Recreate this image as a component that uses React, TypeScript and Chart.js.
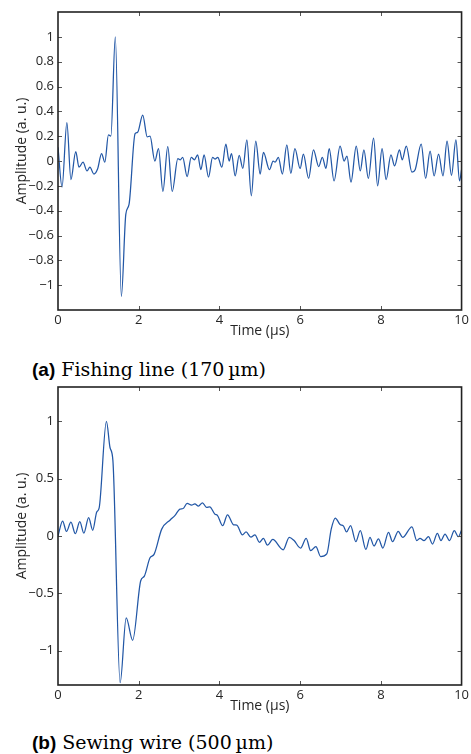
import React, { useEffect, useRef } from "react";
import { Chart, registerables } from "chart.js";

Chart.register(...registerables);

// ---------- data: (a) fishing line ----------
const timeA = [
  0.0, 0.1, 0.22, 0.32, 0.44, 0.52, 0.62, 0.72, 0.79, 0.89, 0.98, 1.08, 1.16, 1.25, 1.31,
  1.42, 1.57, 1.68, 1.76, 1.91, 1.97, 2.1, 2.21, 2.28, 2.4, 2.49, 2.6, 2.72, 2.83, 2.97,
  3.03, 3.09, 3.2, 3.3, 3.38, 3.46, 3.54, 3.62, 3.73, 3.83, 3.89, 3.96, 4.06, 4.16, 4.24,
  4.3, 4.39, 4.49, 4.58, 4.68, 4.79, 4.9, 5.01, 5.09, 5.24, 5.33, 5.38, 5.46, 5.56, 5.67,
  5.77, 5.87, 6.0, 6.08, 6.21, 6.33, 6.46, 6.55, 6.64, 6.72, 6.84, 6.99, 7.09, 7.16, 7.26,
  7.39, 7.49, 7.58, 7.69, 7.82, 7.92, 8.03, 8.13, 8.25, 8.34, 8.46, 8.53, 8.63, 8.77, 8.85,
  9.0, 9.11, 9.22, 9.32, 9.43, 9.54, 9.64, 9.75, 9.86, 9.95, 10.0,
];
const ampA = [
  0.11, -0.21, 0.31, -0.15, 0.075, -0.05, -0.01, -0.08, -0.05, -0.105, -0.065, 0.06, -0.01, 0.21, 0.2,
  1.0, -1.09, -0.43, -0.35, 0.22, 0.23, 0.37, 0.195, 0.2, 0.0, 0.1, -0.245, 0.115, -0.245, 0.02,
  0.01, 0.03, -0.126, 0.03, 0.01, 0.05, -0.07, 0.05, -0.13, 0.03, 0.015, 0.03, -0.05, 0.135, 0.0,
  0.06, -0.12, 0.045, -0.06, 0.17, -0.28, 0.16, -0.105, 0.07, -0.07, 0.0, -0.01, 0.03, -0.105, 0.13,
  -0.1, 0.1, -0.06, 0.055, -0.14, 0.09, -0.045, 0.03, -0.06, 0.1, -0.16, 0.12, 0.0, 0.04, -0.17,
  0.12, -0.08, 0.09, -0.14, 0.185, -0.2, 0.1, -0.15, 0.05, -0.04, 0.09, 0.01, 0.12, -0.09, -0.07,
  0.135, -0.14, 0.08, -0.12, 0.055, -0.12, 0.16, -0.115, 0.17, -0.16, -0.07,
];

// ---------- data: (b) sewing wire ----------
const timeB = [
  0.0, 0.115, 0.21, 0.32, 0.43, 0.54, 0.64, 0.76, 0.86, 0.96, 1.02, 1.2, 1.29, 1.36, 1.54,
  1.69, 1.85, 2.05, 2.14, 2.28, 2.38, 2.57, 2.78, 2.9, 3.02, 3.1, 3.2, 3.31, 3.39, 3.48,
  3.58, 3.68, 3.76, 3.89, 3.95, 4.08, 4.2, 4.35, 4.43, 4.57, 4.66, 4.78, 4.88, 4.99, 5.09,
  5.19, 5.32, 5.58, 5.73, 5.85, 6.01, 6.15, 6.26, 6.39, 6.51, 6.66, 6.77, 6.87, 6.99, 7.07,
  7.15, 7.25, 7.38, 7.49, 7.63, 7.73, 7.83, 7.94, 8.05, 8.19, 8.29, 8.43, 8.54, 8.77, 8.89,
  8.97, 9.07, 9.18, 9.28, 9.4, 9.49, 9.59, 9.7, 9.82, 9.92, 10.0,
];
const ampB = [
  0.0, 0.13, 0.04, 0.12, 0.02, 0.125, 0.025, 0.16, 0.05, 0.21, 0.245, 1.0, 0.77, 0.66, -1.28,
  -0.715, -0.91, -0.39, -0.35, -0.19, -0.16, 0.06, 0.14, 0.18, 0.235, 0.24, 0.285, 0.27, 0.28, 0.26,
  0.29, 0.25, 0.255, 0.19, 0.18, 0.09, 0.185, 0.098, 0.095, 0.01, 0.035, -0.01, 0.01, -0.055, -0.02,
  -0.08, -0.03, -0.12, -0.012, -0.04, -0.105, -0.02, -0.128, -0.093, -0.18, -0.157, 0.06, 0.157, 0.1, 0.088,
  0.035, 0.09, -0.05, 0.047, -0.117, -0.012, -0.087, -0.026, -0.105, 0.032, -0.05, 0.04, -0.012, 0.08, -0.04,
  -0.02, -0.04, -0.006, -0.07, 0.023, -0.04, 0.017, -0.04, 0.047, -0.006, 0.05,
];

// ---------- axes ----------
const xTicks = [0, 2, 4, 6, 8, 10];
const xRange = [0, 10];
const yTicksA = [-1, -0.8, -0.6, -0.4, -0.2, 0, 0.2, 0.4, 0.6, 0.8, 1];
const yRangeA = [-1.2, 1.2];
const yTicksB = [-1, -0.5, 0, 0.5, 1];
const yRangeB = [-1.3, 1.3];
const xTitle = "Time (\u00b5s)";
const yTitle = "Amplitude (a. u.)";
const captionLabelA = "(a)";
const captionTextA = "Fishing line (170\u2009\u00b5m)";
const captionLabelB = "(b)";
const captionTextB = "Sewing wire (500\u2009\u00b5m)";

const FONT = "'Open Sans', 'DejaVu Sans', sans-serif";
const TEXT = "#262626";
const LINE = "#2257a6";

const fmt = (v: number) => (v < 0 ? "\u2212" + String(Math.abs(v)) : String(v));

const boxPlugin = {
  id: "matlabBox",
  afterDatasetsDraw(chart: any) {
    const { ctx, chartArea: a, scales } = chart;
    const tl = 4;
    ctx.save();
    ctx.strokeStyle = "#555";
    ctx.lineWidth = 1;
    ctx.beginPath();
    for (const t of scales.x.ticks) {
      const px = Math.round(scales.x.getPixelForValue(t.value)) + 0.5;
      if (px <= a.left + 2 || px >= a.right - 2) continue;
      ctx.moveTo(px, a.bottom);
      ctx.lineTo(px, a.bottom - tl);
      ctx.moveTo(px, a.top);
      ctx.lineTo(px, a.top + tl);
    }
    for (const t of scales.y.ticks) {
      const py = Math.round(scales.y.getPixelForValue(t.value)) + 0.5;
      if (py <= a.top + 2 || py >= a.bottom - 2) continue;
      ctx.moveTo(a.left, py);
      ctx.lineTo(a.left + tl, py);
      ctx.moveTo(a.right, py);
      ctx.lineTo(a.right - tl, py);
    }
    ctx.stroke();
    ctx.strokeStyle = "#222";
    ctx.lineWidth = 1.6;
    ctx.strokeRect(a.left, a.top, a.right - a.left, a.bottom - a.top);

    // y-axis title (slightly above the axis centre, as in the original figure)
    ctx.fillStyle = TEXT;
    ctx.font = "14px " + FONT;
    ctx.textAlign = "center";
    ctx.textBaseline = "middle";
    ctx.translate(22, (a.top + a.bottom) / 2 - 10);
    ctx.rotate(-Math.PI / 2);
    ctx.fillText(yTitle, 0, 0);
    ctx.restore();
  },
};

function WaveChart(props: { times: number[]; amps: number[]; yTicks: number[]; yRange: number[] }) {
  const ref = useRef<HTMLCanvasElement | null>(null);
  useEffect(() => {
    if (!ref.current) return;
    const pts = props.times.map((t, i) => ({ x: t, y: props.amps[i] }));
    const chart = new Chart(ref.current, {
      type: "line",
      data: {
        datasets: [
          {
            data: pts,
            borderColor: LINE,
            borderWidth: 1.25,
            pointRadius: 0,
            fill: false,
            cubicInterpolationMode: "monotone",
          },
        ],
      },
      options: {
        animation: false,
        responsive: false,
        maintainAspectRatio: false,
        events: [],
        layout: { padding: { left: 0, right: 9, top: 12, bottom: 0 } },
        plugins: { legend: { display: false }, tooltip: { enabled: false } },
        scales: {
          x: {
            type: "linear",
            min: xRange[0],
            max: xRange[1],
            afterBuildTicks: (s: any) => {
              s.ticks = xTicks.map((v) => ({ value: v }));
            },
            afterFit: (s: any) => {
              s.height = 30;
            },
            grid: { display: false, drawTicks: false },
            border: { display: false },
            ticks: {
              padding: 2,
              color: TEXT,
              font: { family: FONT, size: 13 },
              maxRotation: 0,
              autoSkip: false,
              callback: (v: any) => fmt(Number(v)),
            },
            title: {
              display: true,
              text: xTitle,
              color: TEXT,
              font: { family: FONT, size: 14 },
              padding: { top: 0, bottom: 1 },
            },
          },
          y: {
            type: "linear",
            min: props.yRange[0],
            max: props.yRange[1],
            afterBuildTicks: (s: any) => {
              s.ticks = props.yTicks.map((v) => ({ value: v }));
            },
            afterFit: (s: any) => {
              s.width = 58;
            },
            grid: { display: false, drawTicks: false },
            border: { display: false },
            ticks: {
              padding: 4,
              color: TEXT,
              font: { family: FONT, size: 13 },
              autoSkip: false,
              callback: (v: any) => fmt(Number(v)),
            },
            title: { display: false },
          },
        },
      },
      plugins: [boxPlugin],
    } as any);
    return () => chart.destroy();
  }, []);
  return <canvas ref={ref} width={471} height={340} style={{ width: 471, height: 340, display: "block" }} />;
}

const captionStyle: React.CSSProperties = {
  position: "absolute",
  left: 32,
  fontFamily: "'DejaVu Serif', serif",
  fontSize: 19,
  lineHeight: "22px",
  color: "#000",
  whiteSpace: "nowrap",
};
const labelStyle: React.CSSProperties = {
  fontFamily: "'Liberation Sans', 'Open Sans', sans-serif",
  fontWeight: 700,
  fontSize: 19,
};

export default function App() {
  return (
    <div style={{ position: "absolute", left: 0, top: 0, width: 471, height: 754, background: "#fff", overflow: "hidden" }}>
      <div style={{ position: "absolute", left: 0, top: 0 }}>
        <WaveChart times={timeA} amps={ampA} yTicks={yTicksA} yRange={yRangeA} />
      </div>
      <div style={{ ...captionStyle, top: 358 }}>
        <span style={labelStyle}>{captionLabelA}</span> {captionTextA}
      </div>
      <div style={{ position: "absolute", left: 0, top: 375 }}>
        <WaveChart times={timeB} amps={ampB} yTicks={yTicksB} yRange={yRangeB} />
      </div>
      <div style={{ ...captionStyle, top: 731 }}>
        <span style={labelStyle}>{captionLabelB}</span> {captionTextB}
      </div>
    </div>
  );
}
